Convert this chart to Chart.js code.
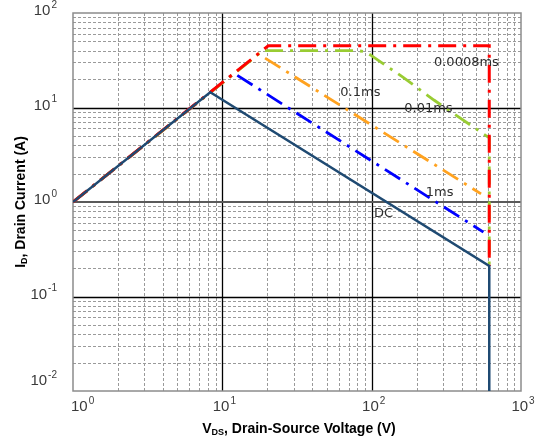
<!DOCTYPE html>
<html>
<head>
<meta charset="utf-8">
<script src="https://cdn.jsdelivr.net/npm/chart.js@4/dist/chart.umd.min.js"></script>
<style>
  html, body { margin: 0; padding: 0; background: #fff; }
  #wrap { width: 537px; height: 441px; position: relative; }
</style>
</head>
<body>
<div id="wrap"><canvas id="soaChart"></canvas></div>
<script>
// Safe operating area curves, VDS (V) vs ID (A)
const dcV = [1, 8.3, 613, 613];
const dcI = [1, 14.5, 0.21, 0.01];

const p0008V = [1, 20.3, 613, 613];
const p0008I = [1, 45, 45, 0.21];

const p001V = [1, 18.7, 80, 90, 98, 160, 261, 613, 613];
const p001I = [1, 40, 40, 39, 36, 21.2, 12, 4.77, 0.21];

const p01V = [1, 17.5, 540];
const p01I = [1, 36.8, 1.22];

const p1V = [1, 12, 560];
const p1I = [1, 23, 0.48];

// curve labels: text, VDS, ID
const labelText = ['DC', '1ms', '0.1ms', '0.01ms', '0.0008ms'];
const labelV = [120, 285, 84, 240, 431];
const labelI = [0.76, 1.25, 14.2, 9.8, 29.6];

const xDecades = [0, 1, 2, 3];
const yDecades = [-2, -1, 0, 1, 2];

function zip(xs, ys) {
  return xs.map((x, i) => ({ x: x, y: ys[i] }));
}

const dashDot = [18, 7, 3, 7];

// grid, tick labels, titles and curve labels are drawn by hand
const soaDecor = {
  id: 'soaDecor',
  beforeDatasetsDraw(chart) {
    const ctx = chart.ctx;
    const xs = chart.scales.x, ys = chart.scales.y;
    const a = chart.chartArea;
    ctx.save();
    // minor lines
    ctx.strokeStyle = '#9a9a9a';
    ctx.lineWidth = 1;
    ctx.setLineDash([3, 2]);
    for (let d = 0; d < 3; d++) {
      for (let m = 2; m <= 9; m++) {
        const px = Math.round(xs.getPixelForValue(m * Math.pow(10, d))) + 0.5;
        ctx.beginPath(); ctx.moveTo(px, a.top); ctx.lineTo(px, a.bottom); ctx.stroke();
      }
    }
    for (let d = -2; d < 2; d++) {
      for (let m = 2; m <= 9; m++) {
        const py = Math.round(ys.getPixelForValue(m * Math.pow(10, d))) + 0.5;
        ctx.beginPath(); ctx.moveTo(a.left, py); ctx.lineTo(a.right, py); ctx.stroke();
      }
    }
    ctx.setLineDash([]);
    // decade lines
    ctx.strokeStyle = '#000';
    ctx.lineWidth = 1.3;
    [1, 2].forEach(d => {
      const px = Math.round(xs.getPixelForValue(Math.pow(10, d))) + 0.5;
      ctx.beginPath(); ctx.moveTo(px, a.top); ctx.lineTo(px, a.bottom); ctx.stroke();
    });
    [-1, 1].forEach(d => {
      const py = Math.round(ys.getPixelForValue(Math.pow(10, d))) + 0.5;
      ctx.beginPath(); ctx.moveTo(a.left, py); ctx.lineTo(a.right, py); ctx.stroke();
    });
    ctx.strokeStyle = '#5a5a5a';
    ctx.lineWidth = 2;
    const y0 = Math.round(ys.getPixelForValue(1));
    ctx.beginPath(); ctx.moveTo(a.left, y0); ctx.lineTo(a.right, y0); ctx.stroke();
    // frame
    ctx.strokeStyle = '#8c8c8c';
    ctx.lineWidth = 1.5;
    ctx.strokeRect(a.left, a.top, a.right - a.left, a.bottom - a.top);
    ctx.restore();
  },
  afterDraw(chart) {
    const ctx = chart.ctx;
    const xs = chart.scales.x, ys = chart.scales.y;
    const a = chart.chartArea;
    ctx.save();
    ctx.fillStyle = '#3a3a3a';
    ctx.textBaseline = 'middle';

    const tickFont = '15px "Liberation Sans", Arial, sans-serif';
    const expFont = '10px "Liberation Sans", Arial, sans-serif';
    function power(base, exp, x, y, align) {
      ctx.font = tickFont;
      const wb = ctx.measureText(base).width;
      ctx.font = expFont;
      const we = ctx.measureText(exp).width;
      let left = align === 'right' ? x - wb - we - 1 : x - (wb + we + 1) / 2;
      if (left < 71 && align !== 'right') left = 71;
      ctx.font = tickFont;
      ctx.textAlign = 'left';
      ctx.fillText(base, left, y);
      ctx.font = expFont;
      ctx.fillText(exp, left + wb + 1, y - 6);
    }

    xDecades.forEach(d => {
      power('10', String(d), xs.getPixelForValue(Math.pow(10, d)) + 2, a.bottom + 16, 'center');
    });
    yDecades.forEach(d => {
      const yy = Math.min(ys.getPixelForValue(Math.pow(10, d)), a.bottom - 8);
      power('10', String(d), 57, yy - 2, 'right');
    });

    // axis titles with subscripts
    function titled(parts) {
      let w = 0;
      parts.forEach(p => { ctx.font = p[1]; w += ctx.measureText(p[0]).width; });
      return w;
    }
    const big = 'bold 14px "Liberation Sans", Arial, sans-serif';
    const sub = 'bold 9px "Liberation Sans", Arial, sans-serif';
    const xt = [['V', big, 0], ['DS', sub, 4], [', Drain-Source Voltage (V)', big, 0]];
    const yt = [['I', big, 0], ['D', sub, 4], [', Drain Current (A)', big, 0]];
    ctx.fillStyle = '#000';
    ctx.textAlign = 'left';
    let cx = (a.left + a.right) / 2 + 2 - titled(xt) / 2;
    xt.forEach(p => {
      ctx.font = p[1];
      ctx.fillText(p[0], cx, 429 + p[2]);
      cx += ctx.measureText(p[0]).width;
    });
    ctx.translate(21, (a.top + a.bottom) / 2);
    ctx.rotate(-Math.PI / 2);
    cx = -titled(yt) / 2;
    yt.forEach(p => {
      ctx.font = p[1];
      ctx.fillText(p[0], cx, p[2]);
      cx += ctx.measureText(p[0]).width;
    });
    ctx.setTransform(1, 0, 0, 1, 0, 0);

    // curve labels
    ctx.fillStyle = '#2e2e2e';
    ctx.font = '13px "DejaVu Sans", sans-serif';
    ctx.textAlign = 'center';
    labelText.forEach((t, i) => {
      ctx.fillText(t, xs.getPixelForValue(labelV[i]), ys.getPixelForValue(labelI[i]));
    });
    ctx.restore();
  }
};

new Chart(document.getElementById('soaChart'), {
  type: 'scatter',
  data: {
    datasets: [
      {
        label: 'DC',
        data: zip(dcV, dcI),
        borderColor: '#1f4a72',
        borderWidth: 2.5
      },
      {
        label: '0.0008ms',
        data: zip(p0008V, p0008I),
        borderColor: '#ff0000',
        borderWidth: 3,
        borderDash: dashDot
      },
      {
        label: '0.01ms',
        data: zip(p001V, p001I),
        borderColor: '#99cc33',
        borderWidth: 2.8,
        borderDash: dashDot
      },
      {
        label: '0.1ms',
        data: zip(p01V, p01I),
        borderColor: '#ffa21f',
        borderWidth: 2.8,
        borderDash: dashDot
      },
      {
        label: '1ms',
        data: zip(p1V, p1I),
        borderColor: '#0000ff',
        borderWidth: 2.8,
        borderDash: dashDot
      }
    ]
  },
  options: {
    responsive: true,
    maintainAspectRatio: false,
    animation: false,
    showLine: true,
    elements: { point: { radius: 0, hoverRadius: 0 }, line: { tension: 0 } },
    layout: { padding: { left: 73, top: 13, right: 16, bottom: 50 } },
    plugins: { legend: { display: false }, tooltip: { enabled: false } },
    scales: {
      x: { type: 'logarithmic', min: 1, max: 1000, display: false },
      y: { type: 'logarithmic', min: 0.01, max: 100, display: false }
    }
  },
  plugins: [soaDecor]
});
</script>
</body>
</html>
